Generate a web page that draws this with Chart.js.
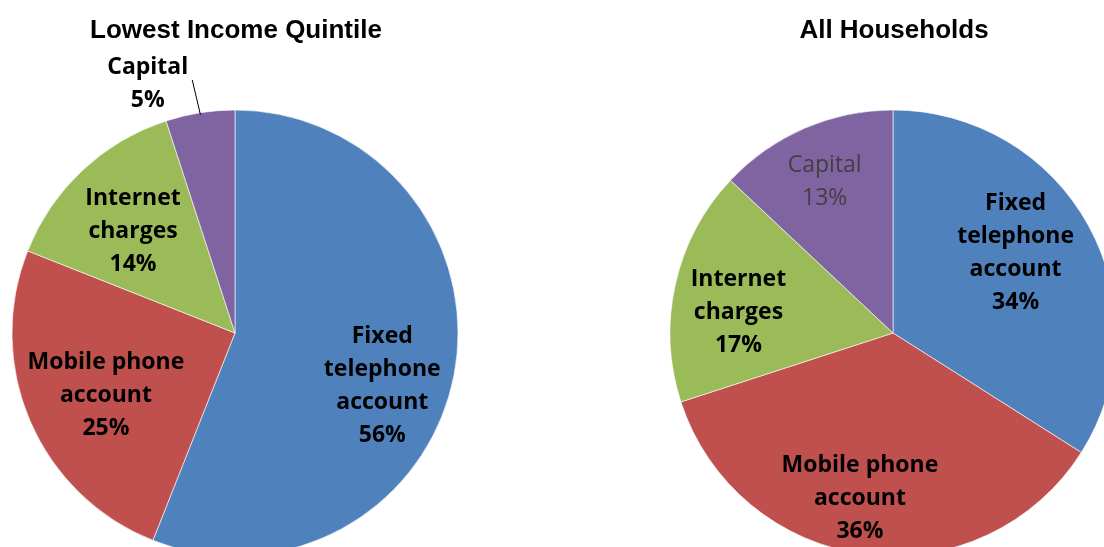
<!DOCTYPE html>
<html lang="en">

<head>
    <meta charset="UTF-8" />
    <title>Household Telecommunication Spending</title>
    <script src="https://cdn.jsdelivr.net/npm/chart.js@4.4.0/dist/chart.umd.min.js"></script>
    <style>
        html, body { margin: 0; padding: 0; background: #fff; overflow: hidden; }
        body { width: 1104px; height: 547px; position: relative; }
        canvas { position: absolute; top: 0; }
        #lowChart { left: 0; }
        #allChart { left: 658px; }
    </style>
</head>

<body>
    <canvas id="lowChart" width="470" height="666"></canvas>
    <canvas id="allChart" width="470" height="666"></canvas>

    <script>
        // Spending categories, shares in percent
        const categories = [['Fixed', 'telephone', 'account'], ['Mobile phone', 'account'], ['Internet', 'charges'], ['Capital']];
        const lowestQuintile = [56, 25, 14, 5];
        const allHouseholds = [34, 36, 17, 13];
        const sliceColors = ['#4f81bd', '#c0504d', '#9bbb59', '#8064a2'];

        // label placement: fraction of radius and angle shift (deg) from slice middle
        const lowLabelPos = [[0.70, 8.6], [0.64, -1.9], [0.65, -1.5], [1.19, -10.2]];
        const allLabelPos = [[0.66, -4.8], [0.75, 4.2], [0.70, -4.5], [0.75, -0.7]];

        const labelPlugin = {
            id: 'sliceLabels',
            afterDatasetsDraw(chart) {
                const ctx = chart.ctx;
                const opts = chart.options.plugins.sliceLabels;
                const meta = chart.getDatasetMeta(0);
                const values = chart.data.datasets[0].data;

                ctx.save();
                // chart title
                ctx.fillStyle = '#000';
                ctx.font = 'bold 26px "Liberation Sans", Arial, sans-serif';
                ctx.textAlign = 'center';
                ctx.textBaseline = 'alphabetic';
                ctx.fillText(opts.title, chart.width / 2 + 1, 38);

                meta.data.forEach((arc, i) => {
                    const [frac, shift] = opts.positions[i];
                    const mid = (arc.startAngle + arc.endAngle) / 2 + shift * Math.PI / 180;
                    const r = arc.outerRadius * frac;
                    const x = arc.x + Math.cos(mid) * r;
                    const y = arc.y + Math.sin(mid) * r + 1.5;
                    const lines = categories[i].concat(values[i] + '%');
                    const lh = 33;
                    const plain = opts.plain && opts.plain[i];
                    ctx.font = (plain ? '' : 'bold ') + '23px "Open Sans", Lato, sans-serif';
                    ctx.fillStyle = plain ? '#404040' : '#000';
                    ctx.textBaseline = 'middle';
                    const top = y - (lines.length - 1) * lh / 2;
                    lines.forEach((t, k) => ctx.fillText(t, x, top + k * lh));

                    // leader line for labels outside the pie
                    if (frac > 1) {
                        const w = ctx.measureText(categories[i][0]).width;
                        const midA = (arc.startAngle + arc.endAngle) / 2;
                        ctx.strokeStyle = '#000';
                        ctx.lineWidth = 1;
                        ctx.beginPath();
                        ctx.moveTo(x + w / 2 + 4, y - 4);
                        ctx.lineTo(arc.x + Math.cos(midA) * (arc.outerRadius - 2), arc.y + Math.sin(midA) * (arc.outerRadius - 2));
                        ctx.stroke();
                    }
                });
                ctx.restore();
            }
        };

        function makePie(id, values, title, positions, plain) {
            return new Chart(document.getElementById(id), {
                type: 'pie',
                data: {
                    labels: categories.map(c => c.join(' ')),
                    datasets: [{
                        data: values,
                        backgroundColor: sliceColors,
                        borderColor: 'rgba(255,255,255,0.6)',
                        borderWidth: 1,
                        radius: 223
                    }]
                },
                options: {
                    responsive: false,
                    animation: false,
                    devicePixelRatio: 1,
                    layout: { padding: 0 },
                    plugins: {
                        legend: { display: false },
                        tooltip: { enabled: false },
                        sliceLabels: { title: title, positions: positions, plain: plain }
                    }
                },
                plugins: [labelPlugin]
            });
        }

        makePie('lowChart', lowestQuintile, 'Lowest Income Quintile', lowLabelPos, null);
        makePie('allChart', allHouseholds, 'All Households', allLabelPos, [false, false, false, true]);
    </script>
</body>

</html>
